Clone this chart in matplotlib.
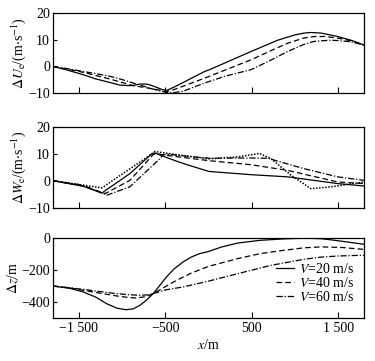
import numpy as np
import matplotlib
matplotlib.use('Agg')
import matplotlib.pyplot as plt

plt.rcParams.update({
    'font.family': ['Liberation Serif', 'DejaVu Serif'],
    'mathtext.fontset': 'stix',
    'font.size': 10,
    'axes.linewidth': 0.9,
    'xtick.direction': 'in',
    'ytick.direction': 'in',
})

# --- panel 1: delta U_e (m/s) ---
u20_x = [-1800, -1650, -1447, -1300, -1139, -1024, -908, -850, -793, -720, -678, -600, -540, -485,
         -400, -44, 14, 494, 800, 1000, 1109, 1186, 1300, 1494, 1650, 1800]
u20_y = [0, -1.2, -3.1, -4.7, -6.0, -7.0, -7.2, -7.0, -6.6, -6.6, -6.9, -7.8, -8.6, -9.0,
         -7.8, -1.9, -1.2, 5.6, 9.8, 11.8, 12.5, 12.7, 12.5, 11.2, 9.8, 8.0]
u40_x = [-1800, -1600, -1447, -1300, -1139, -1000, -870, -678, -560, -485, -400, -44, 494, 750,
         917, 1100, 1225, 1350, 1494, 1650, 1800]
u40_y = [0, -1.2, -2.2, -3.4, -4.7, -6.0, -7.2, -8.2, -8.9, -9.4, -8.7, -4.4, 2.5, 6.3,
         8.7, 10.6, 11.2, 11.2, 10.6, 9.6, 8.0]
u60_x = [-1800, -1600, -1447, -1300, -1139, -1000, -870, -678, -560, -485, -400, -293, -44, 200,
         494, 700, 917, 1100, 1225, 1400, 1494, 1650, 1800]
u60_y = [0, -1.0, -1.9, -2.7, -3.7, -4.9, -6.2, -8.1, -9.2, -9.7, -9.8, -9.3, -6.2, -3.6,
         -1.2, 2.0, 5.6, 8.2, 9.4, 9.8, 9.7, 9.2, 8.0]

# --- panel 2: delta W_e (m/s) ---
w20_x = [-1800, -1447, -1232, -908, -660, -620, -560, -485, -350, -216, 7, 494, 917, 1494, 1800]
w20_y = [0, -2.1, -4.6, 2.6, 9.8, 10.3, 9.5, 8.6, 7.0, 5.6, 3.4, 2.2, 1.4, -1.1, -2.0]
w40_x = [-1800, -1447, -1193, -908, -640, -600, -540, -293, 7, 494, 917, 1494, 1800]
w40_y = [0, -2.0, -4.8, 0.1, 9.6, 10.2, 9.6, 8.6, 7.4, 5.9, 3.8, -0.5, -1.1]
w60_x = [-1800, -1447, -1174, -908, -562, -524, -480, -293, 7, 494, 686, 1109, 1494, 1800]
w60_y = [0, -1.7, -5.4, -2.3, 8.1, 9.6, 9.8, 9.2, 8.3, 8.4, 8.3, 4.4, 1.4, 0.1]
wobs_x = [-1800, -1447, -1232, -678, -620, -293, 7, 340, 590, 725, 955, 1186, 1417, 1800]
wobs_y = [0, -1.7, -2.7, 9.4, 10.8, 9.3, 8.1, 8.8, 10.1, 8.1, 2.0, -3.0, -2.3, -0.5]

# --- panel 3: delta z (m) ---
z20_x = [-1800, -1600, -1447, -1300, -1178, -1060, -956, -870, -793, -720, -639, -560, -485,
         -400, -293, -200, -101, 0, 150, 340, 600, 878, 1109, 1300, 1417, 1600, 1800]
z20_y = [-300, -315, -337, -370, -410, -438, -448, -443, -421, -390, -348, -295, -244,
         -195, -150, -120, -98, -85, -57, -32, -15, -6, -2, -5, -12, -25, -40]
z40_x = [-1800, -1600, -1447, -1250, -1063, -950, -832, -720, -639, -500, -370, -200, 0, 340,
         600, 878, 1100, 1301, 1550, 1800]
z40_y = [-300, -312, -327, -345, -362, -370, -375, -366, -348, -305, -265, -220, -178, -129,
         -98, -77, -62, -56, -60, -72]
z60_x = [-1800, -1447, -1250, -1063, -900, -793, -700, -639, -500, -293, 0, 340, 725, 1109,
         1300, 1494, 1800]
z60_y = [-300, -321, -335, -348, -355, -358, -355, -348, -325, -306, -270, -223, -171, -133,
         -120, -113, -108]

speeds = ['20', '40', '60']
x_ticks = [-1500, -500, 500, 1500]
x_ticklabels = ['\u22121 500', '\u2212500', '500', '1 500']

styles = {
    '20': dict(color='black', lw=0.9, ls='-'),
    '40': dict(color='black', lw=0.9, ls=(0, (4.5, 2.5))),
    '60': dict(color='black', lw=0.9, ls=(0, (5, 1.5, 1, 1.5))),
}

fig = plt.figure(figsize=(3.75, 3.61), dpi=100)
left, width = 0.1405, 0.8305
ax1 = fig.add_axes([left, 0.742, width, 0.222])
ax2 = fig.add_axes([left, 0.425, width, 0.224])
ax3 = fig.add_axes([left, 0.119, width, 0.222])

ax1.plot(u20_x, u20_y, **styles['20'])
ax1.plot(u40_x, u40_y, **styles['40'])
ax1.plot(u60_x, u60_y, **styles['60'])

ax2.plot(w20_x, w20_y, **styles['20'])
ax2.plot(w40_x, w40_y, **styles['40'])
ax2.plot(w60_x, w60_y, **styles['60'])
ax2.plot(wobs_x, wobs_y, color='black', lw=1.1, ls=(0, (1, 1)))

for v, xs, ys in zip(speeds, [z20_x, z40_x, z60_x], [z20_y, z40_y, z60_y]):
    ax3.plot(xs, ys, label=r'$V$=%s m/s' % v, **styles[v])

for ax in (ax1, ax2):
    ax.set_ylim(-10, 20)
    ax.set_yticks([-10, 0, 10, 20])
ax1.set_ylabel(r'$\Delta U_{\rm e}$/(m$\cdot$s$^{-1}$)', labelpad=0)
ax2.set_ylabel(r'$\Delta W_{\rm e}$/(m$\cdot$s$^{-1}$)', labelpad=0)

ax3.set_ylim(-500, 0)
ax3.set_yticks([-400, -200, 0])
ax3.set_ylabel(r'$\Delta z$/m', labelpad=0)
ax3.set_xlabel(r'$x$/m', labelpad=2)

for ax in (ax1, ax2, ax3):
    ax.set_xlim(-1800, 1800)
    ax.set_xticks(x_ticks)
    ax.tick_params(axis='x', length=4.5, width=0.8, pad=3, labelsize=10)
    ax.tick_params(axis='y', length=3, width=0.8, pad=2, labelsize=10)
ax1.set_xticklabels([])
ax2.set_xticklabels([])
ax3.set_xticklabels(x_ticklabels)

ax3.legend(loc='lower right', frameon=False, fontsize=10, handlelength=1.3,
           handletextpad=0.4, labelspacing=0.0, borderaxespad=0.3,
           bbox_to_anchor=(1.0, 0.06))

fig.savefig('out.png', dpi=100, facecolor='white')
